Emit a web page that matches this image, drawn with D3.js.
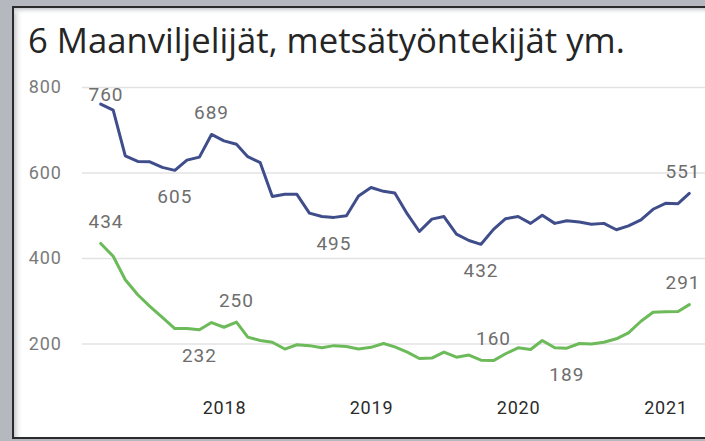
<!DOCTYPE html>
<html>
<head>
<meta charset="utf-8">
<script src="https://cdn.jsdelivr.net/npm/d3@7/dist/d3.min.js"></script>
<style>
  html, body { margin: 0; padding: 0; background: #b6b8bf; }
  svg { display: block; }
</style>
</head>
<body>
<svg id="chart" width="705" height="441"></svg>
<script>
const TITLE = "6 Maanviljelijät, metsätyöntekijät ym.";

// monthly observations, Mar 2017 .. Mar 2021
const months = [
  "2017-03", "2017-04", "2017-05", "2017-06", "2017-07", "2017-08", "2017-09", "2017-10", "2017-11", "2017-12",
  "2018-01", "2018-02", "2018-03", "2018-04", "2018-05", "2018-06", "2018-07", "2018-08", "2018-09", "2018-10", "2018-11", "2018-12",
  "2019-01", "2019-02", "2019-03", "2019-04", "2019-05", "2019-06", "2019-07", "2019-08", "2019-09", "2019-10", "2019-11", "2019-12",
  "2020-01", "2020-02", "2020-03", "2020-04", "2020-05", "2020-06", "2020-07", "2020-08", "2020-09", "2020-10", "2020-11", "2020-12",
  "2021-01", "2021-02", "2021-03"
];

const blueValues = [
  760, 746, 639, 626, 625, 612, 605, 629, 636, 689,
  674, 666, 637, 623, 544, 549, 549, 505, 497, 495, 499, 545,
  565, 556, 552, 503, 462, 491, 497, 456, 441, 432, 467, 492,
  497, 481, 500, 481, 487, 484, 479, 481, 466, 475, 489, 514,
  528, 527, 551
];

const greenValues = [
  434, 404, 349, 314, 287, 261, 235, 235, 232, 249,
  238, 250, 215, 207, 203, 187, 197, 195, 190, 195, 193, 187,
  191, 200, 192, 180, 165, 166, 180, 168, 173, 161, 160, 176,
  190, 186, 207, 190, 189, 200, 199, 203, 211, 225, 252, 273,
  274, 275, 291
];

// which points carry a value label, and on which side
const blueLabels = [[0, "above"], [6, "below"], [9, "above"], [19, "below"], [31, "below"], [48, "above"]];
const greenLabels = [[0, "above"], [8, "below"], [11, "above"], [32, "above"], [38, "below"], [48, "above"]];

const yTicks = [200, 400, 600, 800];
const xTicks = ["2018-01", "2019-01", "2020-01", "2021-01"];

const BLUE = "#3f4e8b";
const GREEN = "#6cba59";
const NUM_FONT = "Roboto, 'DejaVu Sans', sans-serif";

const parseMonth = d3.timeParse("%Y-%m");
const dates = months.map(parseMonth);

const svg = d3.select("#chart");

// ---- card frame ----
const defs = svg.append("defs");
const gl = defs.append("linearGradient").attr("id", "shadeL").attr("x1", 0).attr("x2", 1).attr("y1", 0).attr("y2", 0);
gl.append("stop").attr("offset", 0).attr("stop-color", "#c9cacd").attr("stop-opacity", 1);
gl.append("stop").attr("offset", 1).attr("stop-color", "#ffffff").attr("stop-opacity", 0);
const gt = defs.append("linearGradient").attr("id", "shadeT").attr("x1", 0).attr("x2", 0).attr("y1", 0).attr("y2", 1);
gt.append("stop").attr("offset", 0).attr("stop-color", "#c9cacd").attr("stop-opacity", 1);
gt.append("stop").attr("offset", 1).attr("stop-color", "#ffffff").attr("stop-opacity", 0);

svg.append("rect").attr("width", 705).attr("height", 441).attr("fill", "#b6b8bf");
svg.append("rect")
  .attr("x", 13).attr("y", 7).attr("width", 720).attr("height", 431)
  .attr("fill", "#fff").attr("stroke", "#2b2b2b").attr("stroke-width", 2);
svg.append("rect").attr("x", 14).attr("y", 8).attr("width", 9).attr("height", 429).attr("fill", "url(#shadeL)");
svg.append("rect").attr("x", 14).attr("y", 8).attr("width", 700).attr("height", 7).attr("fill", "url(#shadeT)");

// ---- title ----
const title = svg.append("text")
  .attr("x", 28).attr("y", 53)
  .attr("font-family", "'Open Sans', 'Noto Sans', sans-serif")
  .attr("font-size", 30)
  .attr("fill", "#252525")
  .text(TITLE);
// fit to the width seen in the reference
const tw = title.node().getComputedTextLength();
title.attr("font-size", 30 * 597 / tw);

// ---- scales ----
const x = d3.scaleTime()
  .domain(d3.extent(dates))
  .range([100.7, 689.3]);

const y = d3.scaleLinear()
  .domain([200, 800])
  .range([343.5, 87]);

// ---- y axis + gridlines ----
const yAxis = svg.append("g")
  .attr("transform", "translate(82,0)")
  .call(d3.axisLeft(y).tickValues(yTicks).tickSize(-(705 - 82)).tickPadding(20).tickFormat(d3.format("d")));
yAxis.select(".domain").remove();
yAxis.selectAll(".tick line").attr("stroke", "#e3e3e3").attr("stroke-width", 1.5);
yAxis.selectAll(".tick text")
  .attr("font-family", NUM_FONT).attr("font-size", 18).attr("letter-spacing", 1)
  .attr("fill", "#7a7a7a");

// ---- x axis ----
const xAxis = svg.append("g")
  .attr("transform", "translate(0,398)")
  .call(d3.axisBottom(x).tickValues(xTicks.map(parseMonth)).tickSize(0).tickPadding(3).tickFormat(d3.timeFormat("%Y")));
xAxis.select(".domain").remove();
xAxis.selectAll(".tick text")
  .attr("font-family", NUM_FONT).attr("font-size", 18).attr("letter-spacing", 0.8)
  .attr("fill", "#2b2b2b");

// ---- lines ----
const line = d3.line()
  .x((d, i) => x(dates[i]))
  .y(d => y(d));

function drawSeries(values, color, labels) {
  svg.append("path")
    .attr("d", line(values))
    .attr("fill", "none")
    .attr("stroke", color)
    .attr("stroke-width", 3)
    .attr("stroke-linejoin", "round")
    .attr("stroke-linecap", "round");

  labels.forEach(([i, side]) => {
    const px = x(dates[i]);
    const py = y(values[i]);
    let cy = side === "above" ? py - 22 : py + 25.5;
    cy = Math.max(cy, 94);
    const t = svg.append("text")
      .attr("y", cy)
      .attr("dy", "0.36em")
      .attr("text-anchor", "middle")
      .attr("font-family", NUM_FONT)
      .attr("font-size", 19)
      .attr("letter-spacing", 1)
      .attr("fill", "#6e6e6e")
      .text(values[i]);
    const w = t.node().getComputedTextLength();
    let cx = px;
    cx = Math.max(cx, 88.5 + w / 2);
    cx = Math.min(cx, 700.5 - w / 2);
    t.attr("x", cx);
  });
}

drawSeries(greenValues, GREEN, greenLabels);
drawSeries(blueValues, BLUE, blueLabels);
</script>
</body>
</html>
